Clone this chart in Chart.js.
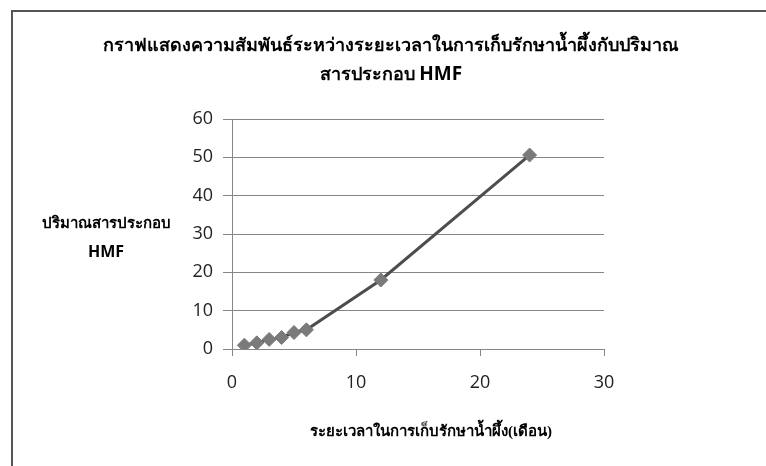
<!DOCTYPE html>
<html>
<head>
<meta charset="utf-8">
<script src="https://cdn.jsdelivr.net/npm/chart.js@4.4.1/dist/chart.umd.min.js"></script>
<style>
  html, body { margin: 0; padding: 0; background: #fff; }
  #frame {
    position: absolute; left: 11px; top: 10px;
    width: 753px; height: 454px;
    border-top: 2px solid #555; border-left: 2px solid #555;
    background: #fff;
  }
</style>
</head>
<body>
<div id="frame"><canvas id="hmfChart" width="753" height="454"></canvas></div>
<script>
// storage time (months) vs HMF content
const months = [1, 2, 3, 4, 5, 6, 12, 24]
const hmf = [1.0, 1.6, 2.5, 3.0, 4.3, 5.0, 18.0, 50.6]

const titleLine1 = 'กราฟแสดงความสัมพันธ์ระหว่างระยะเวลาในการเก็บรักษาน้ำผึ้งกับปริมาณ'
const titleLine2 = ['สารประกอบ ', 'HMF']
const xTitle = 'ระยะเวลาในการเก็บรักษาน้ำผึ้ง(เดือน)'
const yTitle = ['ปริมาณสารประกอบ', 'HMF']

const tickFont = { family: 'Open Sans, Liberation Sans, sans-serif', size: 18 }
const thaiTitle = 'bold 18px "Liberation Serif", "DejaVu Sans", serif'
const thaiLabel = 'bold 15px "Liberation Serif", "DejaVu Sans", serif'
const latinTitle = 'bold 19px "Open Sans", "Liberation Sans", sans-serif'
const latinLabel = 'bold 16px "Open Sans", "Liberation Sans", sans-serif'

// draw a line made of pieces in different fonts, centred on cx
function drawMixed(ctx, parts, cx, cy) {
  let total = 0
  parts.forEach(p => { ctx.font = p[1]; total += ctx.measureText(p[0]).width })
  let x = cx - total / 2
  ctx.textAlign = 'left'
  parts.forEach(p => {
    ctx.font = p[1]
    ctx.fillText(p[0], x, cy)
    x += ctx.measureText(p[0]).width
  })
}

// titles are drawn by hand so the y label can stay horizontal
const textPlugin = {
  id: 'texts',
  afterDraw(chart) {
    const ctx = chart.ctx
    ctx.save()
    ctx.fillStyle = '#000'
    ctx.textBaseline = 'middle'
    drawMixed(ctx, [[titleLine1, thaiTitle]], 378, 34)
    drawMixed(ctx, [[titleLine2[0], thaiTitle], [titleLine2[1], latinTitle]], 378, 63)
    drawMixed(ctx, [[xTitle, thaiLabel]], 418, 420)
    drawMixed(ctx, [[yTitle[0], thaiLabel]], 93, 212)
    drawMixed(ctx, [[yTitle[1], latinLabel]], 93, 240)
    ctx.restore()
  }
}

new Chart(document.getElementById('hmfChart'), {
  type: 'scatter',
  data: {
    datasets: [{
      data: months.map((m, i) => ({ x: m, y: hmf[i] })),
      showLine: true,
      borderColor: '#4d4d4d',
      borderWidth: 3,
      pointStyle: 'rectRot',
      pointRadius: 7,
      pointBackgroundColor: '#7a7a7a',
      pointBorderColor: '#7a7a7a',
      pointBorderWidth: 1
    }]
  },
  options: {
    responsive: false,
    animation: false,
    layout: { padding: { left: 0, right: 162, top: 107, bottom: 0 } },
    plugins: { legend: { display: false }, tooltip: { enabled: false }, title: { display: false } },
    scales: {
      x: {
        type: 'linear',
        min: 0, max: 30,
        ticks: { stepSize: 10, color: '#222', font: tickFont, padding: 16 },
        grid: { drawOnChartArea: false, drawTicks: true, tickLength: 7, color: '#868686' },
        border: { color: '#868686', width: 1 },
        afterFit: (s) => { s.height = 117 }
      },
      y: {
        min: 0, max: 60,
        ticks: { stepSize: 10, color: '#222', font: tickFont, padding: 10 },
        grid: { color: '#868686', tickLength: 9 },
        border: { color: '#868686', width: 1 },
        afterFit: (s) => { s.width = 219 }
      }
    }
  },
  plugins: [textPlugin]
})
</script>
</body>
</html>
